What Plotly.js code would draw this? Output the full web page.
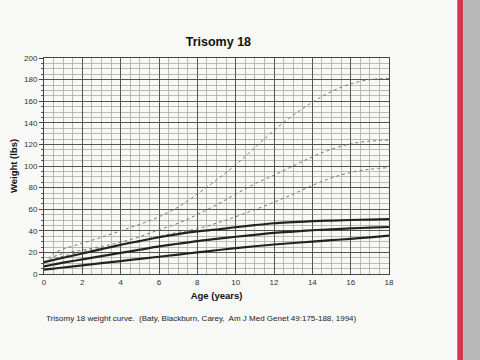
<!DOCTYPE html>
<html>
<head>
<meta charset="utf-8">
<script src="https://cdn.plot.ly/plotly-3.0.1.min.js"></script>
<style>html,body{margin:0;padding:0;background:#f8f8f6;}#chart{width:480px;height:360px;}</style>
</head>
<body>
<div id="chart"></div>
<script>
// Age in years
const ages = [0, 0.5, 1, 2, 3, 4, 5, 6, 7, 8, 9, 10, 11, 12, 13, 14, 15, 16, 17, 18];
// Thin (reference) curves, lbs
const thinHigh = [10, 19, 23, 28.5, 34, 40, 46, 53, 62, 74, 87, 101, 117, 133, 147, 159, 169, 176, 180, 181];
const thinMid  = [10, 16, 19, 22, 25.5, 29.5, 34.5, 41, 47, 55, 64, 74, 83.5, 91.5, 100, 108.5, 115.5, 120.5, 123, 124];
const thinLow  = [10, 14, 16.5, 20.5, 24, 27.5, 31, 35, 38.5, 42, 47, 53, 59.5, 66.5, 74, 82, 89, 94, 97, 98.5];
// Thick (Trisomy 18) curves, lbs
const thickHigh = [11, 13, 15, 19, 23, 27, 30.5, 34, 37, 39.5, 41.2, 43.3, 45.3, 47, 48, 48.9, 49.5, 50, 50.4, 50.8];
const thickMid  = [7, 8.8, 10.5, 13.5, 16.5, 19.5, 22.5, 25.5, 28, 30.5, 32.5, 34.5, 36.3, 38, 39.3, 40.5, 41.4, 42.2, 42.9, 43.5];
const thickLow  = [4, 5, 6, 8, 10, 12, 14, 16, 18, 20, 22, 24, 25.7, 27.3, 28.7, 30, 31.3, 32.6, 34, 35.6];

const xTicks = [0, 2, 4, 6, 8, 10, 12, 14, 16, 18];
const yTicks = [0, 20, 40, 60, 80, 100, 120, 140, 160, 180, 200];

const thin = y => ({x: ages, y: y, type: 'scatter', mode: 'lines', line: {color: '#777', width: 1, dash: 'dot', shape: 'spline'}, hoverinfo: 'skip'});
const thick = y => ({x: ages, y: y, type: 'scatter', mode: 'lines', line: {color: '#222', width: 2.2, shape: 'spline'}, hoverinfo: 'skip'});

const data = [thin(thinHigh), thin(thinMid), thin(thinLow), thick(thickHigh), thick(thickMid), thick(thickLow)];

const font = 'Liberation Sans, Arial, sans-serif';
const layout = {
  width: 480, height: 360,
  paper_bgcolor: '#f8f8f6', plot_bgcolor: '#f8f8f6',
  margin: {l: 44, r: 91, t: 58, b: 86},
  showlegend: false,
  font: {family: font, color: '#222'},
  title: {text: '<b>Trisomy 18</b>', font: {size: 12.5, color: '#111', family: font}, x: 0.455, xanchor: 'center', y: 0.885, yanchor: 'middle'},
  xaxis: {
    range: [0, 18], tickvals: xTicks, ticktext: xTicks.map(String),
    showgrid: true, gridcolor: '#555', gridwidth: 1,
    minor: {dtick: 0.5, showgrid: true, gridcolor: '#aaa', gridwidth: 0.8},
    zeroline: false, showline: true, linecolor: '#444', linewidth: 1, mirror: true,
    ticks: '', tickfont: {size: 8, color: '#333'},
    title: {text: '<b>Age (years)</b>', font: {size: 9.5, color: '#111'}, standoff: 6}
  },
  yaxis: {
    range: [0, 200], tickvals: yTicks, ticktext: yTicks.map(String),
    showgrid: true, gridcolor: '#555', gridwidth: 1,
    minor: {dtick: 5, showgrid: true, gridcolor: '#aaa', gridwidth: 0.8, ticks: 'outside', ticklen: 2, tickcolor: '#555'},
    zeroline: false, showline: true, linecolor: '#444', linewidth: 1, mirror: true,
    ticks: 'outside', ticklen: 4, tickcolor: '#444', tickfont: {size: 8, color: '#333'},
    title: {text: '<b>Weight (lbs)</b>', font: {size: 9.5, color: '#111'}, standoff: 4}
  },
  annotations: [{
    text: 'Trisomy 18 weight curve.  (Baty, Blackburn, Carey,  Am J Med Genet 49:175-188, 1994)',
    xref: 'paper', yref: 'paper', x: 0.0, y: -0.204, xanchor: 'left', yanchor: 'middle',
    showarrow: false, font: {size: 8, color: '#222', family: font}
  }],
  shapes: [
    {type: 'rect', xref: 'paper', yref: 'paper', x0: 1.198, x1: 1.215, y0: -0.4, y1: 1.3, fillcolor: '#d8344c', line: {width: 0}, layer: 'below'},
    {type: 'rect', xref: 'paper', yref: 'paper', x0: 1.215, x1: 1.27, y0: -0.4, y1: 1.3, fillcolor: '#b8b8b8', line: {width: 0}, layer: 'below'}
  ]
};

Plotly.newPlot('chart', data, layout, {staticPlot: true, displayModeBar: false});
</script>
</body>
</html>
